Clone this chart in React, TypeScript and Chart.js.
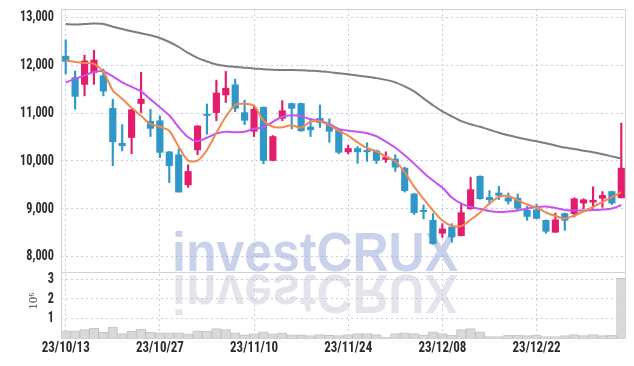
import { useEffect, useRef } from 'react';
import { Chart, registerables } from 'chart.js';

Chart.register(...registerables);

const dates = [
  '23/10/13', '23/10/16', '23/10/17', '23/10/18', '23/10/19', '23/10/20', '23/10/23', '23/10/24', '23/10/25', '23/10/26',
  '23/10/27', '23/10/30', '23/10/31', '23/11/01', '23/11/02', '23/11/03', '23/11/06', '23/11/07', '23/11/08', '23/11/09',
  '23/11/10', '23/11/13', '23/11/14', '23/11/15', '23/11/16', '23/11/17', '23/11/20', '23/11/21', '23/11/22', '23/11/23',
  '23/11/24', '23/11/27', '23/11/28', '23/11/29', '23/11/30', '23/12/01', '23/12/04', '23/12/05', '23/12/06', '23/12/07',
  '23/12/08', '23/12/11', '23/12/12', '23/12/13', '23/12/14', '23/12/15', '23/12/18', '23/12/19', '23/12/20', '23/12/21',
  '23/12/22', '23/12/26', '23/12/27', '23/12/28', '24/01/02', '24/01/03', '24/01/04', '24/01/05', '24/01/08', '24/01/09',
];

const open = [
  12190, 11740, 11600, 11850, 11780, 11100, 10370, 10490, 11200, 10830,
  10840, 10190, 10130, 9500, 10230, 10980, 11010, 11380, 11590, 11010,
  10620, 11120, 10010, 10890, 11200, 11200, 10710, 10890, 10760, 10650,
  10190, 10260, 10220, 10210, 10030, 10040, 9850, 9310, 8970, 8760,
  8490, 8620, 8440, 9000, 9680, 9240, 9330, 9230, 9220, 8970,
  8980, 8760, 8510, 8900, 8900, 9120, 9140, 9220, 9360, 9230,
];
const high = [
  12530, 11880, 12210, 12310, 11920, 11290, 10760, 11080, 11850, 11080,
  10940, 10200, 10250, 9920, 10740, 11190, 11690, 11870, 11710, 11270,
  11150, 11130, 10530, 11260, 11210, 11210, 10890, 11170, 10880, 10660,
  10330, 10300, 10380, 10230, 10190, 10130, 9870, 9320, 9080, 8900,
  8690, 8690, 9120, 9660, 9690, 9380, 9470, 9330, 9310, 9050,
  9100, 8770, 8910, 8910, 9230, 9210, 9460, 9360, 9370, 10790,
];
const low = [
  11820, 11080, 11360, 11600, 11360, 9900, 10210, 10150, 11010, 10510,
  10070, 9550, 9350, 9450, 10130, 10560, 10840, 11220, 11030, 10760,
  10510, 9940, 10000, 10840, 10670, 10620, 10510, 10700, 10390, 10150,
  10150, 9950, 9990, 9950, 9970, 9780, 9350, 8880, 8790, 8260,
  8400, 8300, 8430, 8990, 9200, 9100, 9190, 9100, 8960, 8760,
  8790, 8490, 8510, 8550, 8830, 9000, 9010, 9030, 9090, 9230,
];
const close = [
  12080, 11350, 12090, 12110, 11460, 10400, 10320, 11070, 11290, 10680,
  10180, 9900, 9350, 9780, 10730, 10950, 11420, 11520, 11100, 10850,
  11080, 10010, 10510, 11050, 11100, 10630, 10650, 10800, 10620, 10180,
  10260, 10190, 10190, 10010, 10080, 9870, 9380, 8920, 8940, 8270,
  8580, 8410, 8920, 9400, 9210, 9190, 9280, 9160, 9010, 8840,
  8800, 8530, 8770, 8760, 9210, 9190, 9180, 9280, 9120, 9850,
];
const volume = [
  370000, 370000, 430000, 510000, 290000, 560000, 220000, 340000, 460000, 290000,
  260000, 260000, 260000, 210000, 370000, 340000, 480000, 430000, 260000, 160000,
  210000, 320000, 210000, 260000, 160000, 160000, 120000, 170000, 140000, 120000,
  170000, 220000, 220000, 170000, 50000, 220000, 270000, 220000, 150000, 320000,
  220000, 150000, 430000, 480000, 320000, 70000, 70000, 150000, 150000, 120000,
  150000, 70000, 70000, 120000, 170000, 120000, 170000, 120000, 150000, 3050000,
];
const ma5 = [
  12104, 12069, 12048, 12027, 11860, 11475, 11298, 11110, 10944, 10771,
  10715, 10631, 10298, 10006, 10006, 10230, 10590, 10923, 11173, 11194,
  11152, 10840, 10714, 10704, 10746, 10694, 10819, 10829, 10746, 10631,
  10527, 10388, 10271, 10200, 10090, 9992, 9763, 9465, 9208, 8965,
  8756, 8646, 8638, 8771, 8925, 9110, 9246, 9267, 9183, 9090,
  9027, 8923, 8850, 8798, 8860, 8944, 9038, 9142, 9246, 9350,
];
const ma20 = [
  11642, 11715, 11788, 11860, 11871, 11767, 11642, 11548, 11454, 11287,
  11121, 10954, 10704, 10496, 10413, 10485, 10573, 10610, 10600, 10610,
  10673, 10704, 10819, 10923, 10954, 10933, 10871, 10840, 10767, 10670,
  10631, 10610, 10579, 10517, 10402, 10277, 10121, 9944, 9756, 9590,
  9444, 9235, 9110, 9038, 9000, 8954, 8933, 8944, 8965, 9006,
  9038, 9048, 9017, 8975, 8965, 8965, 8975, 8985, 9006, 9079,
];
const ma60 = [
  12861, 12850, 12861, 12871, 12863, 12806, 12756, 12710, 12667, 12625,
  12569, 12485, 12381, 12256, 12152, 12079, 12017, 11985, 11965, 11948,
  11933, 11915, 11904, 11900, 11898, 11894, 11885, 11875, 11856, 11833,
  11810, 11788, 11760, 11731, 11694, 11642, 11558, 11454, 11308, 11163,
  11037, 10933, 10833, 10767, 10714, 10652, 10590, 10537, 10490, 10448,
  10410, 10371, 10323, 10279, 10250, 10215, 10183, 10142, 10096, 10052,
];

const priceTicks = [8000, 9000, 10000, 11000, 12000, 13000];
const volumeTicks = [1, 2, 3]; // in 10^6
const volumeUnit = 1e6;

const UP = '#e31d6b';
const DOWN = '#3097c9';
const GRID = '#c8cce0';
const FRAME = '#d2d2d2';
const FONT = "'Roboto Condensed', 'Liberation Sans Narrow', 'DejaVu Sans Condensed', 'DejaVu Sans', sans-serif";
const FONT_SIZE = 15;

function fontString(size: number) {
  return `bold ${size}px ${FONT}`;
}

// Condense tick label glyphs horizontally (the reference uses a very narrow face)
function makeCondensePlugin(factors: Record<string, number>) {
  return {
    id: 'condense',
    afterLayout(chart: any) {
      const ctx = chart.ctx;
      Object.keys(factors).forEach((id) => {
        const scale = chart.scales[id];
        if (!scale || scale.__condensed) return;
        scale.__condensed = true;
        const orig = scale.drawLabels;
        const sx = factors[id];
        scale.drawLabels = function (area: any) {
          const nativeFill = ctx.fillText;
          ctx.fillText = function (t: string, x: number, y: number) {
            ctx.save();
            ctx.translate(x, y);
            ctx.scale(sx, 1);
            nativeFill.call(ctx, t, 0, 0);
            ctx.restore();
          };
          try {
            orig.call(scale, area);
          } finally {
            ctx.fillText = nativeFill;
          }
        };
      });
    },
  };
}

const watermarkPlugin = {
  id: 'watermark',
  beforeDatasetsDraw(chart: any) {
    const ctx = chart.ctx;
    const text = 'investCRUX';
    ctx.save();
    ctx.font = "bold 55px 'Liberation Sans', Arial, sans-serif";
    ctx.textBaseline = 'alphabetic';
    ctx.textAlign = 'left';
    const w = ctx.measureText(text).width;
    const sx = 286 / w;
    ctx.save();
    ctx.translate(164, 263);
    ctx.scale(sx, 1);
    ctx.fillStyle = 'rgba(150,165,215,0.5)';
    ctx.fillText(text, 0, 0);
    ctx.restore();
    ctx.save();
    ctx.translate(164, 267);
    ctx.scale(sx, -1);
    ctx.fillStyle = 'rgba(190,190,212,0.42)';
    ctx.fillText(text, 0, 0);
    ctx.restore();
    ctx.restore();
  },
};

const framePlugin = {
  id: 'frame',
  afterDatasetsDraw(chart: any) {
    const { ctx, chartArea } = chart;
    const ys = chart.scales.y;
    ctx.save();
    ctx.strokeStyle = FRAME;
    ctx.lineWidth = 1;
    ctx.beginPath();
    ctx.rect(chartArea.left + 0.5, chartArea.top + 0.5, chartArea.right - chartArea.left - 1, chartArea.bottom - chartArea.top);
    ctx.moveTo(chartArea.left, Math.round(ys.bottom) + 0.5);
    ctx.lineTo(chartArea.right, Math.round(ys.bottom) + 0.5);
    ctx.stroke();
    const yv = chart.scales.yv;
    ctx.translate(25.5, (yv.top + yv.bottom) / 2 - 4);
    ctx.rotate(-Math.PI / 2);
    ctx.fillStyle = '#444';
    ctx.textAlign = 'center';
    ctx.textBaseline = 'middle';
    ctx.font = "13px 'Liberation Serif', 'DejaVu Serif', serif";
    ctx.fillText('10\u2076', 0, 0);
    ctx.restore();
  },
};

export default function App() {
  const ref = useRef<HTMLCanvasElement | null>(null);

  useEffect(() => {
    if (!ref.current) return;
    const colors = open.map((o, i) => (close[i] >= o ? UP : DOWN));
    const tickFont = { family: FONT, size: FONT_SIZE, weight: 'bold' as const };

    const mctx = document.createElement('canvas').getContext('2d')!;
    mctx.font = fontString(FONT_SIZE);
    const sxY = Math.min(1, 34 / mctx.measureText('13,000').width);
    const sxX = Math.min(1, 48 / mctx.measureText('23/10/13').width);

    const fitY = (s: any) => {
      s.width = 53;
      s.paddingTop = 0;
      s.paddingBottom = 0;
    };
    const fitX = (s: any) => {
      s.height = 19;
      s.paddingLeft = 0;
      s.paddingRight = 0;
    };

    const chart = new Chart(ref.current, {
      type: 'bar',
      data: {
        labels: dates,
        datasets: [
          {
            type: 'line',
            label: 'MA5',
            data: ma5,
            borderColor: '#f0894d',
            borderWidth: 2,
            pointRadius: 0,
            tension: 0.25,
            yAxisID: 'y',
            order: 0,
          } as any,
          {
            type: 'line',
            label: 'MA20',
            data: ma20,
            borderColor: '#c653ef',
            borderWidth: 2,
            pointRadius: 0,
            tension: 0.25,
            yAxisID: 'y',
            order: 0,
          },
          {
            type: 'line',
            label: 'MA60',
            data: ma60,
            borderColor: '#7d7d7d',
            borderWidth: 2,
            pointRadius: 0,
            tension: 0.25,
            yAxisID: 'y',
            order: 0,
          },
          {
            type: 'bar',
            label: 'body',
            data: open.map((o, i) => [o, close[i]]),
            backgroundColor: colors,
            barThickness: 6.5,
            grouped: false,
            yAxisID: 'y',
            order: 1,
          },
          {
            type: 'bar',
            label: 'wick',
            data: low.map((l, i) => [l, high[i]]),
            backgroundColor: colors,
            barThickness: 1.5,
            grouped: false,
            yAxisID: 'y',
            order: 2,
          },
          {
            type: 'bar',
            label: 'volume',
            data: volume,
            backgroundColor: '#d9d9d9',
            borderColor: '#c4c4c4',
            borderWidth: 1,
            barPercentage: 1,
            categoryPercentage: 1,
            grouped: false,
            yAxisID: 'yv',
            order: 3,
          },
        ],
      },
      options: {
        responsive: false,
        animation: false,
        layout: { padding: { left: 0, right: 0, top: 1, bottom: 1 } },
        plugins: { legend: { display: false }, tooltip: { enabled: false } },
        scales: {
          x: {
            type: 'category',
            offset: true,
            afterFit: fitX,
            grid: {
              offset: false,
              drawTicks: false,
              color: (c: any) => (c.index % 10 === 0 ? GRID : 'rgba(0,0,0,0)'),
            },
            border: { display: false, dash: [2, 3] },
            ticks: {
              autoSkip: false,
              maxRotation: 0,
              minRotation: 0,
              padding: 1,
              color: '#2a2a2a',
              font: tickFont,
              callback: (_v: any, i: number) => (i % 10 === 0 ? dates[i] : ''),
            },
          },
          y: {
            type: 'linear',
            position: 'left',
            stack: 'panel',
            stackWeight: 263,
            weight: 2,
            min: 7680,
            max: 13175,
            afterBuildTicks: (s: any) => {
              s.ticks = priceTicks.map((v) => ({ value: v }));
            },
            afterFit: fitY,
            grid: { color: GRID, drawTicks: false },
            border: { display: false, dash: [2, 3] },
            ticks: {
              autoSkip: false,
              padding: 7,
              color: '#2a2a2a',
              font: tickFont,
              callback: (v: any) => Number(v).toLocaleString('en-US'),
            },
          },
          yv: {
            type: 'linear',
            position: 'left',
            stack: 'panel',
            stackWeight: 66,
            weight: 1,
            min: 0,
            max: 3370000,
            afterBuildTicks: (s: any) => {
              s.ticks = volumeTicks.map((v) => ({ value: v * volumeUnit }));
            },
            afterFit: fitY,
            grid: { color: GRID, drawTicks: false },
            border: { display: false, dash: [2, 3] },
            ticks: {
              autoSkip: false,
              padding: 7,
              color: '#2a2a2a',
              font: tickFont,
              callback: (v: any) => String(Math.round(Number(v) / volumeUnit)),
            },
          },
        },
      } as any,
      plugins: [watermarkPlugin, framePlugin, makeCondensePlugin({ x: sxX, y: sxY, yv: sxY })],
    });
    return () => chart.destroy();
  }, []);

  return <canvas ref={ref} width={618} height={350} style={{ display: 'block' }} />;
}
